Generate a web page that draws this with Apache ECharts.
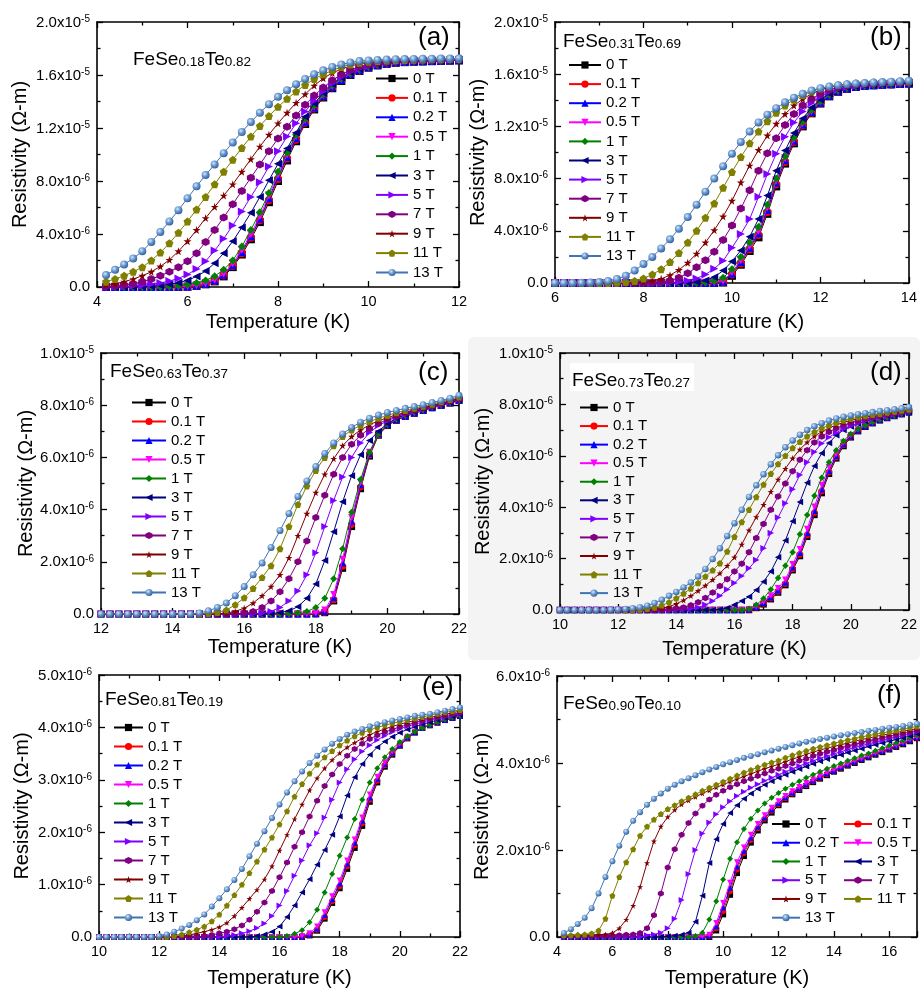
<!DOCTYPE html>
<html>
<head>
<meta charset="utf-8">
<script src="https://cdn.jsdelivr.net/npm/echarts@6/dist/echarts.min.js"></script>
<style>
  html, body { margin: 0; padding: 0; background: #fff; }
  #chart { width: 920px; height: 989px; }
</style>
</head>
<body>
<div id="chart"></div>
<script>
// magnetic field of each curve
const fields = ['0 T', '0.1 T', '0.2 T', '0.5 T', '1 T', '3 T', '5 T', '7 T', '9 T', '11 T', '13 T'];

// sample names, [Se, Te]
const samples = [
  ['0.18', '0.82'], ['0.31', '0.69'], ['0.63', '0.37'],
  ['0.73', '0.27'], ['0.81', '0.19'], ['0.90', '0.10']
];
const letters = ['(a)', '(b)', '(c)', '(d)', '(e)', '(f)'];

// temperature (K) of each panel
const tA = [4.2,4.4,4.6,4.8,5.0,5.2,5.4,5.6,5.8,6.0,6.2,6.4,6.6,6.8,7.0,7.2,7.4,7.6,7.8,8.0,8.2,8.4,8.6,8.8,9.0,9.2,9.4,9.6,9.8,10.0,10.2,10.4,10.6,10.8,11.0,11.2,11.4,11.6,11.8,12.0];
const tB = [6.0,6.2,6.4,6.6,6.8,7.0,7.2,7.4,7.6,7.8,8.0,8.2,8.4,8.6,8.8,9.0,9.2,9.4,9.6,9.8,10.0,10.2,10.4,10.6,10.8,11.0,11.2,11.4,11.6,11.8,12.0,12.2,12.4,12.6,12.8,13.0,13.2,13.4,13.6,13.8,14.0];
const tC = [12,12.25,12.5,12.75,13,13.25,13.5,13.75,14,14.25,14.5,14.75,15,15.25,15.5,15.75,16,16.25,16.5,16.75,17,17.25,17.5,17.75,18,18.25,18.5,18.75,19,19.25,19.5,19.75,20,20.25,20.5,20.75,21,21.25,21.5,21.75,22];
const tD = [10,10.25,10.5,10.75,11,11.25,11.5,11.75,12,12.25,12.5,12.75,13,13.25,13.5,13.75,14,14.25,14.5,14.75,15,15.25,15.5,15.75,16,16.25,16.5,16.75,17,17.25,17.5,17.75,18,18.25,18.5,18.75,19,19.25,19.5,19.75,20,20.25,20.5,20.75,21,21.25,21.5,21.75,22];
const tE = [10,10.25,10.5,10.75,11,11.25,11.5,11.75,12,12.25,12.5,12.75,13,13.25,13.5,13.75,14,14.25,14.5,14.75,15,15.25,15.5,15.75,16,16.25,16.5,16.75,17,17.25,17.5,17.75,18,18.25,18.5,18.75,19,19.25,19.5,19.75,20,20.25,20.5,20.75,21,21.25,21.5,21.75,22];
const tF = [4.25,4.5,4.75,5,5.25,5.5,5.75,6,6.25,6.5,6.75,7,7.25,7.5,7.75,8,8.25,8.5,8.75,9,9.25,9.5,9.75,10,10.25,10.5,10.75,11,11.25,11.5,11.75,12,12.25,12.5,12.75,13,13.25,13.5,13.75,14,14.25,14.5,14.75,15,15.25,15.5,15.75,16,16.25,16.5,16.75,17];

// resistivity in 1e-6 ohm-m, one row per field (same order as fields)
const rhoA = [
  [0,0,0,0,0,0,0,0,0,0.02,0.08,0.2,0.42,0.8,1.5,2.45,3.6,4.9,6.4,8.0,9.55,11.0,12.3,13.4,14.3,15.0,15.55,16.0,16.3,16.55,16.72,16.84,16.92,16.97,17.0,17.02,17.04,17.06,17.08,17.1],
  [0,0,0,0,0,0,0,0,0.01,0.03,0.1,0.23,0.46,0.86,1.58,2.55,3.72,5.03,6.55,8.15,9.7,11.12,12.4,13.48,14.37,15.05,15.6,16.03,16.33,16.57,16.74,16.85,16.93,16.98,17.01,17.03,17.05,17.07,17.09,17.11],
  [0,0,0,0,0,0,0,0,0.01,0.04,0.11,0.25,0.5,0.92,1.65,2.65,3.83,5.15,6.7,8.3,9.82,11.22,12.48,13.55,14.42,15.1,15.63,16.06,16.35,16.59,16.75,16.86,16.94,16.98,17.01,17.03,17.05,17.07,17.09,17.11],
  [0,0,0,0,0,0,0,0,0.02,0.05,0.13,0.28,0.55,1.0,1.78,2.8,4.0,5.35,6.9,8.5,10.0,11.38,12.6,13.62,14.48,15.15,15.68,16.08,16.38,16.6,16.76,16.87,16.94,16.99,17.02,17.04,17.06,17.08,17.1,17.12],
  [0,0,0,0,0.01,0.01,0.02,0.05,0.1,0.18,0.3,0.5,0.82,1.3,2.0,3.05,4.3,5.65,7.1,8.7,10.15,11.5,12.7,13.7,14.55,15.22,15.73,16.12,16.42,16.64,16.78,16.89,16.96,17.0,17.03,17.05,17.07,17.09,17.11,17.13],
  [0,0,0,0,0.03,0.06,0.12,0.2,0.32,0.5,0.8,1.2,1.8,2.55,3.45,4.5,5.6,6.8,8.05,9.3,10.45,11.65,12.85,13.85,14.65,15.3,15.8,16.18,16.46,16.67,16.8,16.9,16.97,17.01,17.04,17.06,17.08,17.1,17.12,17.14],
  [0,0.02,0.04,0.07,0.12,0.2,0.3,0.45,0.65,0.95,1.35,1.95,2.75,3.65,4.65,5.7,6.8,7.9,9.1,10.25,11.35,12.35,13.25,14.05,14.75,15.35,15.85,16.22,16.5,16.7,16.83,16.92,16.98,17.02,17.05,17.07,17.09,17.11,17.13,17.15],
  [0.05,0.1,0.15,0.25,0.4,0.6,0.85,1.15,1.5,1.95,2.55,3.4,4.3,5.25,6.25,7.25,8.25,9.25,10.25,11.2,12.1,12.95,13.75,14.45,15.05,15.6,16.05,16.38,16.62,16.78,16.9,16.97,17.02,17.05,17.08,17.1,17.12,17.14,17.16,17.18],
  [0.15,0.25,0.4,0.6,0.85,1.15,1.55,2.05,2.7,3.45,4.3,5.2,6.05,6.9,7.75,8.7,9.65,10.6,11.5,12.35,13.15,13.9,14.55,15.2,15.75,16.15,16.45,16.68,16.84,16.95,17.02,17.06,17.09,17.11,17.13,17.15,17.16,17.17,17.18,17.2],
  [0.4,0.6,0.85,1.15,1.5,2.0,2.6,3.3,4.1,4.95,5.85,6.8,7.75,8.7,9.6,10.5,11.35,12.15,12.9,13.6,14.2,14.75,15.25,15.7,16.05,16.35,16.6,16.8,16.92,17.0,17.05,17.09,17.12,17.14,17.16,17.17,17.18,17.19,17.2,17.21],
  [0.9,1.3,1.7,2.15,2.7,3.4,4.15,4.95,5.8,6.7,7.6,8.45,9.25,10.1,10.9,11.7,12.45,13.15,13.8,14.35,14.85,15.3,15.7,16.05,16.35,16.6,16.8,16.95,17.05,17.1,17.14,17.17,17.19,17.2,17.21,17.22,17.23,17.24,17.25,17.26]
];

const rhoB = [
  [0,0,0,0,0, 0,0,0,0,0, 0,0,0,0,0, 0,0,0,0, 0.03,0.55,1.4,2.45,3.5,5.3,7.4,9.15,10.7,12.0,13.0,13.75,14.3,14.65,14.88,15.02,15.1,15.15,15.19,15.22,15.25,15.28],
  [0,0,0,0,0, 0,0,0,0,0, 0,0,0,0,0, 0,0,0, 0.01,0.08,0.65,1.5,2.58,3.68,5.45,7.55,9.28,10.8,12.07,13.05,13.78,14.32,14.67,14.89,15.03,15.1,15.15,15.19,15.22,15.25,15.28],
  [0,0,0,0,0, 0,0,0,0,0, 0,0,0,0,0, 0,0,0, 0.02,0.12,0.72,1.6,2.7,3.82,5.6,7.68,9.4,10.9,12.15,13.1,13.82,14.35,14.69,14.9,15.04,15.11,15.16,15.2,15.23,15.26,15.29],
  [0,0,0,0,0, 0,0,0,0,0, 0,0,0,0,0, 0,0, 0.01,0.04,0.18,0.82,1.75,2.85,4.0,5.8,7.85,9.55,11.02,12.25,13.18,13.88,14.4,14.72,14.92,15.05,15.12,15.17,15.21,15.24,15.27,15.3],
  [0,0,0,0,0, 0,0,0,0,0, 0,0,0,0,0, 0, 0.01,0.05,0.15,0.4,1.05,2.0,3.1,4.3,6.0,8.0,9.7,11.15,12.35,13.25,13.93,14.43,14.75,14.94,15.06,15.13,15.18,15.22,15.25,15.28,15.31],
  [0,0,0,0,0, 0,0,0,0,0, 0,0,0,0,0, 0.02,0.08,0.2,0.45,0.95,1.65,2.5,3.55,4.9,6.7,8.6,10.15,11.5,12.6,13.45,14.05,14.5,14.8,14.97,15.08,15.15,15.2,15.24,15.27,15.3,15.33],
  [0,0,0,0,0, 0,0,0,0,0, 0,0,0, 0.02,0.07,0.17,0.35,0.65,1.1,1.7,2.7,3.75,4.9,6.6,8.35,9.9,11.2,12.3,13.15,13.8,14.3,14.65,14.9,15.03,15.12,15.18,15.23,15.27,15.3,15.33,15.36],
  [0,0,0,0,0, 0,0,0,0,0, 0, 0.02,0.07,0.18,0.4,0.75,1.2,1.75,2.4,3.3,4.4,5.7,7.1,8.6,9.95,11.1,12.1,12.95,13.6,14.1,14.5,14.8,15.0,15.12,15.2,15.25,15.29,15.32,15.35,15.37,15.4],
  [0,0,0,0,0, 0,0,0,0, 0.02,0.07,0.16,0.32,0.6,1.0,1.55,2.25,3.1,4.05,5.1,6.3,7.7,9.0,10.2,11.3,12.2,12.95,13.6,14.1,14.5,14.8,15.0,15.13,15.22,15.28,15.32,15.35,15.38,15.4,15.42,15.44],
  [0,0,0,0,0, 0,0, 0.02,0.07,0.16,0.35,0.65,1.05,1.6,2.3,3.1,4.0,5.0,6.1,7.3,8.5,9.65,10.7,11.6,12.4,13.05,13.6,14.05,14.4,14.68,14.9,15.05,15.17,15.25,15.31,15.35,15.38,15.41,15.43,15.45,15.46],
  [0,0,0,0.01,0.03,0.07,0.15,0.3,0.55,0.95,1.45,2.0,2.65,3.35,4.15,5.05,6.0,7.0,8.0,8.95,9.9,10.8,11.6,12.3,12.9,13.4,13.85,14.2,14.5,14.75,14.93,15.06,15.16,15.23,15.29,15.33,15.37,15.4,15.43,15.46,15.5]
];

const rhoC = [
  [0,0,0,0,0, 0,0,0,0,0, 0,0,0,0,0, 0,0,0,0,0, 0,0,0,0,0, 0.05,0.5,1.75,3.35,4.8,6.05,6.85,7.22,7.42,7.57,7.69,7.8,7.9,7.99,8.08,8.18],
  [0,0,0,0,0, 0,0,0,0,0, 0,0,0,0,0, 0,0,0,0,0, 0,0,0,0, 0.01,0.07,0.55,1.83,3.43,4.87,6.1,6.87,7.23,7.43,7.58,7.7,7.81,7.9,7.99,8.08,8.18],
  [0,0,0,0,0, 0,0,0,0,0, 0,0,0,0,0, 0,0,0,0,0, 0,0,0,0, 0.02,0.1,0.62,1.95,3.55,4.95,6.15,6.9,7.25,7.44,7.59,7.7,7.81,7.91,8.0,8.09,8.19],
  [0,0,0,0,0, 0,0,0,0,0, 0,0,0,0,0, 0,0,0,0,0, 0,0,0, 0.01,0.04,0.15,0.75,2.1,3.7,5.05,6.2,6.92,7.27,7.46,7.6,7.71,7.82,7.92,8.0,8.09,8.19],
  [0,0,0,0,0, 0,0,0,0,0, 0,0,0,0,0, 0,0,0,0,0, 0, 0.02,0.04,0.1,0.25,0.6,1.35,2.5,3.9,5.15,6.2,6.9,7.28,7.48,7.62,7.73,7.83,7.93,8.01,8.1,8.2],
  [0,0,0,0,0, 0,0,0,0,0, 0,0,0,0,0, 0,0,0,0, 0.02,0.05,0.12,0.28,0.6,1.15,2.05,3.15,4.3,5.3,6.1,6.65,7.0,7.3,7.5,7.64,7.75,7.85,7.94,8.02,8.11,8.21],
  [0,0,0,0,0, 0,0,0,0,0, 0,0,0,0,0, 0,0,0, 0.03,0.1,0.25,0.5,0.88,1.5,2.35,3.35,4.35,5.25,6.0,6.55,6.95,7.22,7.4,7.55,7.67,7.78,7.87,7.96,8.04,8.13,8.22],
  [0,0,0,0,0, 0,0,0,0,0, 0,0,0,0,0, 0, 0.03,0.1,0.25,0.5,0.85,1.35,2.0,2.8,3.7,4.55,5.35,6.0,6.5,6.85,7.1,7.3,7.45,7.58,7.7,7.8,7.89,7.97,8.06,8.15,8.24],
  [0,0,0,0,0, 0,0,0,0,0, 0,0,0,0, 0.03,0.1,0.22,0.42,0.7,1.05,1.5,2.15,3.0,3.85,4.65,5.35,5.95,6.45,6.8,7.05,7.25,7.4,7.52,7.63,7.73,7.82,7.91,7.99,8.08,8.17,8.26],
  [0,0,0,0,0, 0,0,0,0,0, 0,0, 0.02,0.06,0.15,0.35,0.62,0.98,1.4,1.85,2.5,3.35,4.2,4.9,5.5,6.0,6.45,6.8,7.05,7.22,7.37,7.5,7.61,7.71,7.8,7.88,7.96,8.04,8.13,8.22,8.31],
  [0,0,0,0,0, 0,0,0,0,0, 0, 0.04,0.12,0.25,0.42,0.7,1.05,1.5,1.95,2.55,3.2,3.85,4.5,5.1,5.65,6.15,6.55,6.9,7.15,7.35,7.5,7.62,7.72,7.8,7.88,7.95,8.02,8.1,8.18,8.27,8.38]
];

const rhoD = [
  [0,0,0,0,0, 0,0,0,0,0, 0,0,0,0,0, 0,0,0,0,0, 0,0,0,0,0, 0,0, 0.08,0.22,0.42,0.68,0.97,1.55,2.1,2.85,3.7,4.55,5.3,5.9,6.38,6.72,6.96,7.13,7.27,7.38,7.47,7.55,7.62,7.69],
  [0,0,0,0,0, 0,0,0,0,0, 0,0,0,0,0, 0,0,0,0,0, 0,0,0,0,0, 0,0, 0.1,0.25,0.46,0.72,1.02,1.6,2.16,2.92,3.78,4.62,5.36,5.95,6.42,6.75,6.98,7.15,7.28,7.39,7.48,7.56,7.63,7.7],
  [0,0,0,0,0, 0,0,0,0,0, 0,0,0,0,0, 0,0,0,0,0, 0,0,0,0,0, 0, 0.02,0.12,0.28,0.5,0.77,1.08,1.66,2.23,3.0,3.86,4.7,5.42,6.0,6.46,6.78,7.0,7.16,7.29,7.4,7.49,7.57,7.64,7.7],
  [0,0,0,0,0, 0,0,0,0,0, 0,0,0,0,0, 0,0,0,0,0, 0,0,0,0,0, 0, 0.03,0.14,0.32,0.56,0.85,1.18,1.78,2.36,3.15,4.02,4.86,5.55,6.08,6.52,6.8,7.02,7.17,7.3,7.41,7.5,7.58,7.65,7.71],
  [0,0,0,0,0, 0,0,0,0,0, 0,0,0,0,0, 0,0,0,0,0, 0,0,0,0,0, 0, 0.05,0.2,0.45,0.8,1.25,1.72,2.25,2.95,3.7,4.45,5.15,5.75,6.22,6.58,6.85,7.05,7.2,7.32,7.42,7.5,7.58,7.65,7.72],
  [0,0,0,0,0, 0,0,0,0,0, 0,0,0,0,0, 0,0,0,0,0, 0,0, 0.02,0.08,0.2,0.35,0.52,0.78,1.1,1.5,2.05,2.7,3.45,4.2,4.95,5.6,6.1,6.5,6.8,7.0,7.14,7.25,7.34,7.42,7.49,7.55,7.61,7.67,7.73],
  [0,0,0,0,0, 0,0,0,0,0, 0,0,0,0,0, 0,0, 0.02,0.05,0.1,0.2,0.35,0.55,0.8,1.05,1.32,1.62,1.95,2.4,3.0,3.6,4.15,4.7,5.25,5.75,6.15,6.48,6.72,6.9,7.04,7.16,7.26,7.35,7.43,7.5,7.56,7.62,7.68,7.74],
  [0,0,0,0,0, 0,0,0,0,0, 0,0,0,0,0, 0.02,0.05,0.1,0.18,0.3,0.47,0.68,0.93,1.2,1.5,1.8,2.25,2.8,3.35,3.9,4.42,4.92,5.4,5.85,6.22,6.52,6.75,6.93,7.07,7.18,7.28,7.36,7.43,7.49,7.55,7.6,7.65,7.7,7.75],
  [0,0,0,0,0, 0,0,0,0,0, 0,0,0, 0.02,0.06,0.13,0.24,0.38,0.55,0.75,0.95,1.18,1.43,1.72,2.05,2.55,3.1,3.62,4.1,4.6,5.08,5.5,5.9,6.25,6.53,6.76,6.94,7.08,7.2,7.3,7.38,7.45,7.51,7.56,7.61,7.65,7.69,7.73,7.77],
  [0,0,0,0,0, 0,0,0,0,0, 0, 0.02,0.05,0.1,0.18,0.3,0.46,0.64,0.84,1.05,1.3,1.55,1.82,2.28,2.85,3.42,3.9,4.4,4.88,5.3,5.68,6.0,6.3,6.55,6.76,6.93,7.07,7.19,7.29,7.37,7.44,7.5,7.55,7.6,7.64,7.68,7.72,7.76,7.8],
  [0,0,0,0,0, 0,0, 0.01,0.02,0.04,0.07,0.11,0.17,0.27,0.4,0.55,0.7,0.88,1.07,1.3,1.6,1.98,2.4,2.88,3.38,3.9,4.4,4.85,5.28,5.67,6.02,6.33,6.6,6.82,7.0,7.15,7.27,7.37,7.45,7.52,7.57,7.62,7.66,7.7,7.74,7.77,7.81,7.85,7.9]
];

const rhoE = [
  [0,0,0,0,0, 0,0,0,0,0, 0,0,0,0,0, 0,0,0,0,0, 0,0,0,0,0, 0,0,0, 0.03,0.12,0.35,0.65,0.93,1.3,1.7,2.12,2.58,2.95,3.25,3.48,3.65,3.79,3.9,3.99,4.04,4.09,4.14,4.18,4.22],
  [0,0,0,0,0, 0,0,0,0,0, 0,0,0,0,0, 0,0,0,0,0, 0,0,0,0,0, 0,0,0, 0.04,0.14,0.38,0.68,0.97,1.35,1.75,2.17,2.62,2.98,3.28,3.5,3.66,3.8,3.91,3.99,4.04,4.09,4.14,4.18,4.22],
  [0,0,0,0,0, 0,0,0,0,0, 0,0,0,0,0, 0,0,0,0,0, 0,0,0,0,0, 0,0, 0.01,0.05,0.16,0.42,0.72,1.02,1.4,1.8,2.22,2.66,3.02,3.3,3.52,3.67,3.81,3.91,3.99,4.05,4.1,4.14,4.18,4.22],
  [0,0,0,0,0, 0,0,0,0,0, 0,0,0,0,0, 0,0,0,0,0, 0,0,0,0,0, 0,0, 0.02,0.07,0.2,0.47,0.78,1.08,1.46,1.86,2.28,2.72,3.06,3.33,3.54,3.69,3.82,3.92,4.0,4.05,4.1,4.15,4.19,4.23],
  [0,0,0,0,0, 0,0,0,0,0, 0,0,0,0,0, 0,0,0,0,0, 0,0,0,0,0, 0.02,0.06,0.13,0.28,0.52,0.85,1.2,1.55,1.9,2.25,2.62,2.95,3.22,3.43,3.59,3.72,3.83,3.92,3.99,4.05,4.1,4.15,4.19,4.23],
  [0,0,0,0,0, 0,0,0,0,0, 0,0,0,0,0, 0,0,0,0,0, 0, 0.02,0.05,0.1,0.2,0.38,0.6,0.85,1.1,1.38,1.66,1.95,2.3,2.7,3.05,3.3,3.48,3.62,3.73,3.82,3.9,3.96,4.01,4.06,4.1,4.14,4.18,4.21,4.24],
  [0,0,0,0,0, 0,0,0,0,0, 0,0,0,0,0, 0,0, 0.02,0.04,0.07,0.11,0.17,0.26,0.4,0.6,0.88,1.17,1.46,1.75,1.98,2.28,2.62,2.95,3.2,3.39,3.54,3.66,3.76,3.84,3.91,3.97,4.02,4.06,4.1,4.14,4.17,4.2,4.23,4.26],
  [0,0,0,0,0, 0,0,0,0,0, 0,0,0,0, 0.02,0.04,0.07,0.1,0.15,0.22,0.33,0.48,0.66,0.88,1.14,1.42,1.72,2.0,2.3,2.6,2.88,3.1,3.3,3.46,3.59,3.69,3.78,3.85,3.91,3.96,4.01,4.05,4.09,4.13,4.16,4.19,4.22,4.25,4.28],
  [0,0,0,0,0, 0,0,0,0,0, 0, 0.02,0.04,0.07,0.1,0.14,0.19,0.27,0.4,0.56,0.73,0.9,1.1,1.35,1.65,1.95,2.25,2.53,2.8,3.03,3.22,3.38,3.51,3.62,3.71,3.79,3.86,3.92,3.97,4.02,4.06,4.1,4.13,4.16,4.19,4.22,4.25,4.28,4.31],
  [0,0,0,0,0, 0,0,0,0,0, 0.02,0.05,0.09,0.14,0.2,0.3,0.43,0.6,0.8,1.0,1.22,1.44,1.67,1.9,2.15,2.4,2.68,2.92,3.12,3.29,3.43,3.55,3.66,3.75,3.83,3.9,3.95,4.0,4.04,4.08,4.11,4.14,4.17,4.2,4.23,4.26,4.29,4.31,4.33],
  [0,0,0,0,0, 0,0,0, 0.02,0.05,0.1,0.16,0.23,0.32,0.43,0.58,0.74,0.91,1.09,1.3,1.54,1.78,2.02,2.27,2.53,2.76,2.97,3.16,3.32,3.46,3.58,3.69,3.78,3.86,3.92,3.97,4.02,4.06,4.1,4.13,4.16,4.19,4.22,4.24,4.26,4.29,4.32,4.35,4.38]
];

const rhoF = [
  [0,0,0,0,0, 0,0,0,0,0, 0,0,0,0,0, 0,0,0,0,0, 0,0, 0.15,0.52,0.97,1.47,1.86,2.17,2.45,2.68,2.86,3.03,3.16,3.28,3.38,3.47,3.56,3.64,3.72,3.8,3.87,3.94,4.0,4.07,4.13,4.19,4.25,4.31,4.37,4.43,4.5,4.57],
  [0,0,0,0,0, 0,0,0,0,0, 0,0,0,0,0, 0,0,0,0,0, 0, 0.02,0.2,0.6,1.05,1.55,1.93,2.23,2.5,2.72,2.9,3.06,3.19,3.3,3.4,3.49,3.58,3.66,3.74,3.82,3.89,3.96,4.02,4.09,4.15,4.21,4.27,4.33,4.39,4.45,4.52,4.58],
  [0,0,0,0,0, 0,0,0,0,0, 0,0,0,0,0, 0,0,0,0,0, 0, 0.03,0.25,0.68,1.13,1.62,1.98,2.28,2.54,2.75,2.93,3.08,3.21,3.32,3.42,3.51,3.6,3.68,3.76,3.83,3.9,3.97,4.03,4.1,4.16,4.22,4.28,4.34,4.4,4.46,4.53,4.59],
  [0,0,0,0,0, 0,0,0,0,0, 0,0,0,0,0, 0,0,0,0,0, 0.01,0.05,0.32,0.78,1.25,1.72,2.06,2.35,2.6,2.8,2.97,3.12,3.24,3.35,3.45,3.54,3.62,3.7,3.78,3.85,3.92,3.99,4.05,4.11,4.17,4.23,4.29,4.35,4.41,4.47,4.54,4.6],
  [0,0,0,0,0, 0,0,0,0,0, 0,0,0,0,0, 0,0,0,0, 0.02,0.1,0.4,0.82,1.32,1.8,2.18,2.48,2.72,2.91,3.07,3.2,3.31,3.41,3.5,3.58,3.66,3.73,3.8,3.87,3.93,3.99,4.05,4.11,4.17,4.22,4.28,4.34,4.4,4.46,4.52,4.58,4.64],
  [0,0,0,0,0, 0,0,0,0,0, 0,0,0,0,0, 0.02,0.03,0.05,0.1,0.35,0.95,1.7,2.25,2.6,2.85,3.03,3.18,3.3,3.41,3.5,3.58,3.66,3.73,3.8,3.86,3.92,3.98,4.04,4.09,4.14,4.19,4.24,4.29,4.33,4.38,4.42,4.46,4.5,4.54,4.58,4.62,4.67],
  [0,0,0,0,0, 0,0,0,0,0, 0,0, 0.04,0.06,0.1,0.2,0.42,0.85,1.45,2.0,2.38,2.63,2.82,2.98,3.12,3.24,3.34,3.43,3.51,3.59,3.66,3.73,3.8,3.87,3.93,3.99,4.05,4.11,4.16,4.21,4.26,4.31,4.36,4.4,4.44,4.48,4.52,4.56,4.6,4.63,4.67,4.71],
  [0.02,0.02,0.02,0.02,0.02,0.03,0.03,0.03,0.04,0.05,0.06,0.09,0.2,0.5,1.0,1.6,2.02,2.35,2.62,2.84,3.02,3.16,3.27,3.36,3.44,3.51,3.58,3.64,3.7,3.76,3.82,3.87,3.93,3.99,4.05,4.1,4.16,4.21,4.26,4.3,4.35,4.39,4.43,4.47,4.51,4.54,4.58,4.61,4.65,4.68,4.71,4.75],
  [0.03,0.03,0.03,0.04,0.04,0.05,0.06,0.09,0.2,0.4,0.72,1.15,1.7,2.2,2.54,2.76,2.92,3.05,3.14,3.22,3.3,3.37,3.44,3.5,3.57,3.63,3.69,3.75,3.81,3.87,3.92,3.97,4.03,4.09,4.14,4.2,4.25,4.3,4.34,4.38,4.42,4.46,4.5,4.54,4.57,4.61,4.64,4.67,4.7,4.73,4.76,4.79],
  [0.04,0.04,0.05,0.06,0.08,0.15,0.42,0.95,1.38,1.72,2.02,2.33,2.54,2.7,2.83,2.94,3.03,3.12,3.2,3.28,3.36,3.43,3.5,3.57,3.64,3.71,3.78,3.84,3.9,3.96,4.01,4.06,4.12,4.18,4.23,4.28,4.33,4.37,4.41,4.45,4.49,4.53,4.56,4.6,4.63,4.66,4.69,4.72,4.75,4.78,4.81,4.84],
  [0.09,0.18,0.3,0.44,0.66,1.0,1.38,1.74,2.1,2.42,2.67,2.87,3.04,3.18,3.3,3.41,3.5,3.58,3.65,3.72,3.79,3.85,3.91,3.97,4.02,4.07,4.12,4.16,4.2,4.25,4.29,4.33,4.37,4.41,4.45,4.49,4.52,4.55,4.58,4.61,4.64,4.66,4.69,4.71,4.74,4.76,4.79,4.81,4.83,4.85,4.88,4.9]
];

// marker look of each field (Origin default sequence)
const colors = ['#000000', '#ff0000', '#0000ff', '#ff00ff', '#008000', '#000080', '#8000ff', '#800080', '#800000', '#808000', '#3f73b3'];
const symbols = [
  'rect', 'circle', 'triangle',
  'path://M0,0L10,0L5,9Z',                       // down triangle
  'diamond',
  'path://M9,0L9,10L0,5Z',                       // left triangle
  'path://M0,0L9,5L0,10Z',                       // right triangle
  'path://M5,0L10,2.5L10,7.5L5,10L0,7.5L0,2.5Z', // hexagon
  'path://M50,0L61,35L98,35L68,57L79,91L50,70L21,91L32,57L2,35L39,35Z',
  'path://M50,0L98,35L79,91L21,91L2,35Z',        // pentagon
  'circle'
];
const sphere = {
  type: 'radial', x: 0.38, y: 0.35, r: 0.7,
  colorStops: [{ offset: 0, color: '#dbe8f7' }, { offset: 0.45, color: '#6b9bd3' }, { offset: 1, color: '#2b5a96' }]
};

// panel placement
const panels = [
  { t: tA, rho: rhoA, grid: { left: 97, top: 22, width: 362, height: 265 }, x: [4, 12], y: [0, 20, 4], yGap: 67, xGap: 25, sym: 8,
    legends: [{ left: 375, top: 71, itemWidth: 32, itemGap: 4.4, data: fields }], name: { left: 133, top: 50.5 }, letter: { left: 418, top: 25 } },
  { t: tB, rho: rhoB, grid: { left: 555, top: 22, width: 358, height: 261 }, x: [6, 14], y: [0, 20, 4], yGap: 67, xGap: 29, sym: 8,
    legends: [{ left: 568, top: 57.5, itemWidth: 32, itemGap: 4.1, data: fields }], name: { left: 563, top: 32 }, letter: { left: 870, top: 25 } },
  { t: tC, rho: rhoC, grid: { left: 101, top: 353, width: 358, height: 261 }, x: [12, 22], y: [0, 10, 2], yGap: 59, xGap: 23, sym: 7,
    legends: [{ left: 131, top: 395, itemWidth: 34, itemGap: 4.0, data: fields }], name: { left: 110, top: 362.5 }, letter: { left: 418, top: 360 } },
  { t: tD, rho: rhoD, grid: { left: 560, top: 353, width: 352, height: 257 }, x: [10, 22], y: [0, 10, 2], yGap: 67, xGap: 29, sym: 6.5,
    legends: [{ left: 579, top: 400, itemWidth: 28, itemGap: 3.56, data: fields }], name: { left: 570, top: 368, box: true }, letter: { left: 870, top: 359.5 } },
  { t: tE, rho: rhoE, grid: { left: 99, top: 675, width: 361, height: 263 }, x: [10, 22], y: [0, 5, 1], yGap: 67, xGap: 31, sym: 6,
    legends: [{ left: 113, top: 720, itemWidth: 29, itemGap: 4.0, data: fields }], name: { left: 105, top: 690.5 }, letter: { left: 422, top: 674.5 } },
  { t: tF, rho: rhoF, grid: { left: 557, top: 676, width: 361, height: 263 }, x: [4, 17], y: [0, 6, 2], yGap: 64, xGap: 31, sym: 6,
    legends: [
      { left: 771, top: 816.5, itemWidth: 28, itemGap: 3.74, data: ['0 T', '0.2 T', '1 T', '5 T', '9 T', '13 T'] },
      { left: 843, top: 816.5, itemWidth: 28, itemGap: 3.74, data: ['0.1 T', '0.5 T', '3 T', '7 T', '11 T'] }
    ], name: { left: 563, top: 694 }, letter: { left: 877, top: 683 } }
];

const FONT = '"Liberation Sans", Arial, sans-serif';

// y tick label as mantissa x 10^exp, value in 1e-6 units
function sciLabel(v) {
  if (v === 0) return '0.0';
  const e = v >= 10 ? -5 : -6;
  const m = (v >= 10 ? v / 10 : v).toFixed(1);
  return '{m|' + m + 'x10}{s|' + e + '}';
}

const grids = [], xAxes = [], yAxes = [], series = [], legends = [], titles = [];

panels.forEach((p, pi) => {
  grids.push(Object.assign({ containLabel: false }, p.grid));
  const tickLine = { lineStyle: { color: '#000', width: 1.3 } };
  const baseX = {
    type: 'value', gridIndex: pi, min: p.x[0], max: p.x[1], interval: 2,
    axisLine: { show: true, onZero: false, lineStyle: { color: '#000', width: 1.6 } },
    axisTick: Object.assign({ show: true, inside: true, length: 6 }, tickLine),
    minorTick: Object.assign({ show: true, splitNumber: 2, length: 3.5 }, tickLine),
    splitLine: { show: false }
  };
  xAxes.push(Object.assign({}, baseX, {
    position: 'bottom',
    name: 'Temperature (K)', nameLocation: 'middle', nameGap: p.xGap,
    nameTextStyle: { fontSize: 20, color: '#000', fontFamily: FONT },
    axisLabel: { margin: 7, fontSize: 14.5, color: '#000', fontFamily: FONT,
      formatter: v => (v % 2 === 0 ? String(v) : '') }
  }));
  xAxes.push(Object.assign({}, baseX, { position: 'top', axisLabel: { show: false } }));

  const baseY = {
    type: 'value', gridIndex: pi, min: p.y[0], max: p.y[1], interval: p.y[2],
    axisLine: { show: true, onZero: false, lineStyle: { color: '#000', width: 1.6 } },
    axisTick: Object.assign({ show: true, inside: true, length: 6 }, tickLine),
    minorTick: Object.assign({ show: true, splitNumber: 2, length: 3.5 }, tickLine),
    splitLine: { show: false }
  };
  yAxes.push(Object.assign({}, baseY, {
    position: 'left',
    name: 'Resistivity (Ω-m)', nameLocation: 'middle', nameRotate: 90, nameGap: p.yGap,
    nameTextStyle: { fontSize: 20, color: '#000', fontFamily: FONT },
    axisLabel: {
      margin: 7, fontSize: 15, color: '#000', fontFamily: FONT, formatter: sciLabel,
      rich: {
        m: { fontSize: 15, color: '#000', fontFamily: FONT, lineHeight: 16, verticalAlign: 'bottom' },
        s: { fontSize: 10, color: '#000', fontFamily: FONT, lineHeight: 10, verticalAlign: 'top', padding: [0, 0, 8, 0] }
      }
    }
  }));
  yAxes.push(Object.assign({}, baseY, { position: 'right', axisLabel: { show: false } }));

  p.rho.forEach((row, k) => {
    series.push({
      name: fields[k], type: 'line', xAxisIndex: 2 * pi, yAxisIndex: 2 * pi,
      data: p.t.map((t, i) => [t, row[i]]),
      symbol: symbols[k], symbolSize: p.sym, showSymbol: true,
      lineStyle: { width: 1, color: colors[k] },
      itemStyle: { color: k === 10 ? sphere : colors[k] },
      emphasis: { disabled: true },
      z: 2 + k * 0.01
    });
  });

  p.legends.forEach(l => {
    legends.push({
      orient: 'vertical', left: l.left, top: l.top, padding: 0,
      itemWidth: l.itemWidth, itemHeight: 9, itemGap: l.itemGap,
      selectedMode: false, data: l.data,
      textStyle: { fontSize: 15, lineHeight: 15, color: '#000', fontFamily: FONT }
    });
  });

  const s = samples[pi];
  titles.push({
    left: p.name.left, top: p.name.top,
    padding: p.name.box ? [3, 4, 1, 2] : 0,
    backgroundColor: p.name.box ? '#ffffff' : 'transparent',
    text: '{n|FeSe}{s|' + s[0] + '}{n|Te}{s|' + s[1] + '}',
    textStyle: {
      fontWeight: 'normal',
      rich: {
        n: { fontSize: 19, lineHeight: 19, fontWeight: 'normal', verticalAlign: 'top', color: '#000', fontFamily: FONT },
        s: { fontSize: 13.5, lineHeight: 13.5, fontWeight: 'normal', verticalAlign: 'bottom', padding: [10, 0, 0, 0], color: '#000', fontFamily: FONT }
      }
    }
  });
  titles.push({
    left: p.letter.left, top: p.letter.top, padding: 0, text: letters[pi],
    textStyle: { fontSize: 26, fontWeight: 'normal', color: '#000', fontFamily: FONT }
  });
});

const chart = echarts.init(document.getElementById('chart'), null, { renderer: 'canvas' });
chart.setOption({
  backgroundColor: '#ffffff',
  animation: false,
  textStyle: { fontFamily: FONT },
  graphic: [
    // light panel behind (d)
    { type: 'rect', z: -10, silent: true, shape: { x: 468, y: 337, width: 452, height: 323, r: 6 }, style: { fill: '#f4f4f4' } }
  ],
  title: titles,
  legend: legends,
  grid: grids,
  xAxis: xAxes,
  yAxis: yAxes,
  series: series
});
</script>
</body>
</html>
